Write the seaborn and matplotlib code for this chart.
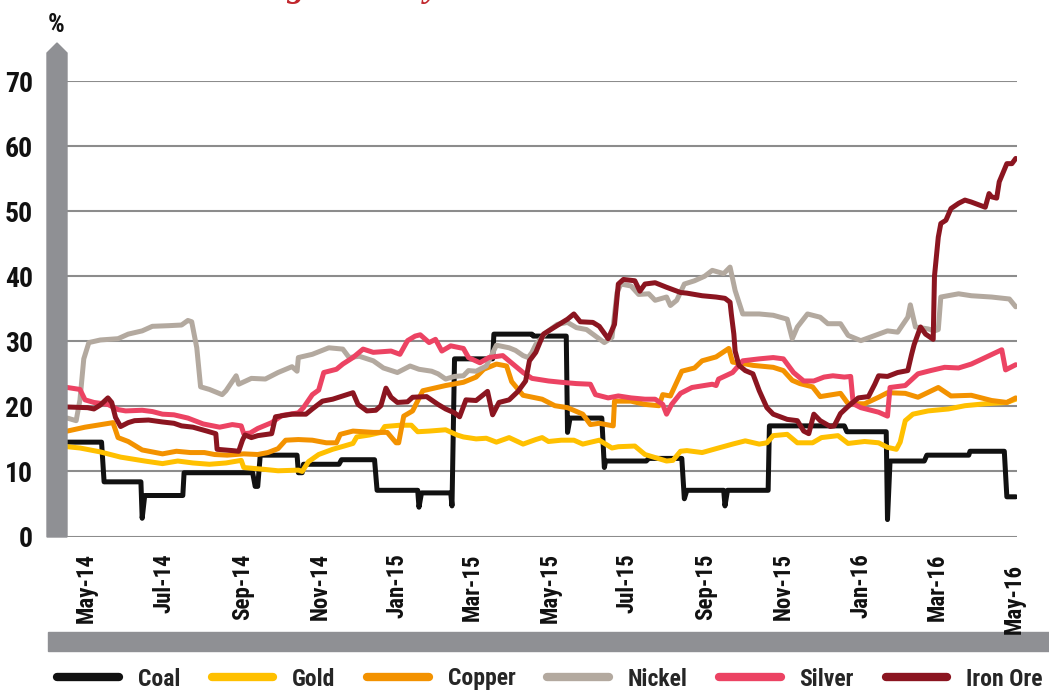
import matplotlib
matplotlib.use("Agg")
import matplotlib.pyplot as plt
from matplotlib import font_manager
from matplotlib.font_manager import FontProperties
from matplotlib.lines import Line2D
from matplotlib.patches import Polygon, Rectangle
from matplotlib.transforms import ScaledTranslation
import pandas as pd
import seaborn as sns

# rolling volatility (%), (date, value) per commodity
coal = [("2014-04-16", 14.5), ("2014-05-13", 14.5), ("2014-05-15", 8.4), ("2014-06-13", 8.4),
        ("2014-06-14", 2.8), ("2014-06-16", 6.3), ("2014-07-16", 6.3), ("2014-07-17", 9.8),
        ("2014-09-09", 9.8), ("2014-09-11", 7.7), ("2014-09-13", 7.7), ("2014-09-15", 12.5),
        ("2014-10-14", 12.5), ("2014-10-15", 9.8), ("2014-10-18", 9.8), ("2014-10-19", 11.1),
        ("2014-11-16", 11.1), ("2014-11-18", 11.8), ("2014-12-14", 11.8), ("2014-12-16", 7.1),
        ("2015-01-17", 7.1), ("2015-01-18", 4.5), ("2015-01-20", 6.7), ("2015-02-12", 6.7),
        ("2015-02-13", 4.7), ("2015-02-15", 27.3), ("2015-03-17", 27.3), ("2015-03-18", 31.1),
        ("2015-04-17", 31.1), ("2015-04-18", 30.8), ("2015-05-14", 30.8), ("2015-05-15", 16.0),
        ("2015-05-17", 18.2), ("2015-06-11", 18.2), ("2015-06-13", 10.6), ("2015-06-14", 11.6),
        ("2015-07-16", 11.6), ("2015-07-18", 12.0), ("2015-08-13", 12.0), ("2015-08-15", 5.8),
        ("2015-08-17", 7.1), ("2015-09-15", 7.1), ("2015-09-16", 4.7), ("2015-09-18", 7.1),
        ("2015-10-20", 7.1), ("2015-10-21", 17.0), ("2015-12-19", 17.0), ("2015-12-21", 16.1),
        ("2016-01-21", 16.1), ("2016-01-22", 2.6), ("2016-01-24", 11.6), ("2016-02-20", 11.6),
        ("2016-02-22", 12.5), ("2016-03-26", 12.5), ("2016-03-27", 13.1), ("2016-04-23", 13.1),
        ("2016-04-25", 6.1), ("2016-05-02", 6.1)]

gold = [("2014-04-16", 13.8), ("2014-04-26", 13.6), ("2014-05-12", 13.0), ("2014-05-28", 12.2),
        ("2014-06-16", 11.6), ("2014-06-30", 11.2), ("2014-07-12", 11.6), ("2014-07-24", 11.3),
        ("2014-08-06", 11.1), ("2014-08-19", 11.3), ("2014-08-31", 11.7), ("2014-09-02", 10.6),
        ("2014-09-19", 10.3), ("2014-09-29", 10.1), ("2014-10-15", 10.2), ("2014-10-18", 10.0),
        ("2014-10-23", 11.5), ("2014-10-31", 12.6), ("2014-11-11", 13.4), ("2014-11-20", 13.9),
        ("2014-11-27", 14.3), ("2014-11-30", 15.3), ("2014-12-10", 15.6), ("2014-12-19", 16.0),
        ("2014-12-22", 16.9), ("2015-01-03", 17.1), ("2015-01-12", 17.1), ("2015-01-17", 16.1),
        ("2015-01-26", 16.2), ("2015-02-08", 16.4), ("2015-02-17", 15.6), ("2015-02-22", 15.3),
        ("2015-03-04", 15.0), ("2015-03-12", 15.1), ("2015-03-20", 14.5), ("2015-03-30", 15.2),
        ("2015-04-10", 14.2), ("2015-04-20", 14.9), ("2015-04-25", 15.2), ("2015-04-30", 14.6),
        ("2015-05-10", 14.8), ("2015-05-20", 14.8), ("2015-05-27", 14.2), ("2015-06-09", 14.8),
        ("2015-06-19", 13.6), ("2015-06-24", 13.8), ("2015-07-07", 13.9), ("2015-07-15", 12.6),
        ("2015-08-01", 11.6), ("2015-08-06", 11.7), ("2015-08-12", 13.1), ("2015-08-17", 13.2),
        ("2015-08-29", 12.9), ("2015-09-09", 13.5), ("2015-09-22", 14.2), ("2015-10-02", 14.7),
        ("2015-10-13", 14.2), ("2015-10-19", 14.4), ("2015-10-24", 15.5), ("2015-11-04", 15.7),
        ("2015-11-12", 14.4), ("2015-11-24", 14.4), ("2015-12-01", 15.2), ("2015-12-14", 15.5),
        ("2015-12-22", 14.3), ("2016-01-04", 14.6), ("2016-01-15", 14.4), ("2016-01-22", 13.7),
        ("2016-01-29", 13.4), ("2016-02-01", 14.5), ("2016-02-05", 17.8), ("2016-02-11", 18.8),
        ("2016-02-23", 19.3), ("2016-03-10", 19.6), ("2016-03-23", 20.1), ("2016-04-08", 20.4),
        ("2016-04-25", 20.6), ("2016-05-02", 21.1)]

copper = [("2014-04-16", 16.2), ("2014-04-30", 16.8), ("2014-05-19", 17.4), ("2014-05-22", 17.5),
          ("2014-05-26", 15.2), ("2014-06-03", 14.6), ("2014-06-14", 13.3), ("2014-06-30", 12.7),
          ("2014-07-11", 13.1), ("2014-07-22", 12.9), ("2014-08-02", 12.9), ("2014-08-10", 12.6),
          ("2014-08-20", 12.5), ("2014-09-02", 12.7), ("2014-09-13", 12.6), ("2014-09-21", 12.9),
          ("2014-09-29", 13.5), ("2014-10-05", 14.8), ("2014-10-15", 14.9), ("2014-10-26", 14.8),
          ("2014-11-06", 14.4), ("2014-11-14", 14.4), ("2014-11-17", 15.7), ("2014-11-27", 16.2),
          ("2014-12-13", 16.0), ("2014-12-24", 16.0), ("2014-12-31", 14.4), ("2015-01-02", 14.4),
          ("2015-01-06", 18.5), ("2015-01-13", 19.3), ("2015-01-21", 22.4), ("2015-02-08", 23.2),
          ("2015-02-22", 23.7), ("2015-03-04", 24.5), ("2015-03-10", 25.7), ("2015-03-20", 26.5),
          ("2015-03-28", 26.2), ("2015-04-01", 23.8), ("2015-04-10", 21.7), ("2015-04-25", 21.1),
          ("2015-05-05", 20.1), ("2015-05-15", 19.8), ("2015-05-27", 18.8), ("2015-06-02", 17.2),
          ("2015-06-09", 17.4), ("2015-06-20", 17.0), ("2015-06-21", 20.8), ("2015-07-04", 20.8),
          ("2015-07-15", 20.3), ("2015-07-26", 20.1), ("2015-07-29", 21.8), ("2015-08-04", 21.6),
          ("2015-08-13", 25.4), ("2015-08-23", 25.9), ("2015-08-29", 27.0), ("2015-09-09", 27.6),
          ("2015-09-19", 28.9), ("2015-09-22", 26.8), ("2015-09-30", 26.6), ("2015-10-08", 26.3),
          ("2015-10-24", 26.0), ("2015-11-01", 25.5), ("2015-11-08", 24.0), ("2015-11-14", 23.5),
          ("2015-11-24", 23.0), ("2015-11-30", 21.5), ("2015-12-16", 22.0), ("2015-12-22", 20.4),
          ("2016-01-04", 20.4), ("2016-01-15", 21.4), ("2016-01-22", 22.1), ("2016-02-05", 22.0),
          ("2016-02-15", 21.4), ("2016-03-02", 22.9), ("2016-03-12", 21.6), ("2016-03-28", 21.7),
          ("2016-04-13", 20.9), ("2016-04-25", 20.6), ("2016-05-02", 21.3)]

nickel = [("2014-04-16", 18.2), ("2014-04-23", 17.8), ("2014-04-26", 21.0), ("2014-04-29", 27.3),
          ("2014-05-03", 29.8), ("2014-05-12", 30.2), ("2014-05-26", 30.4), ("2014-06-03", 31.1),
          ("2014-06-14", 31.6), ("2014-06-22", 32.3), ("2014-07-05", 32.4), ("2014-07-15", 32.5),
          ("2014-07-20", 33.2), ("2014-07-23", 33.0), ("2014-07-27", 29.0), ("2014-07-30", 23.0),
          ("2014-08-06", 22.6), ("2014-08-16", 21.8), ("2014-08-19", 22.4), ("2014-08-27", 24.7),
          ("2014-08-29", 23.4), ("2014-09-08", 24.3), ("2014-09-19", 24.2), ("2014-09-29", 25.2),
          ("2014-10-10", 26.1), ("2014-10-14", 25.4), ("2014-10-15", 27.5), ("2014-10-26", 28.0),
          ("2014-11-08", 29.0), ("2014-11-19", 28.8), ("2014-11-24", 27.5), ("2014-12-02", 27.7),
          ("2014-12-13", 27.0), ("2014-12-21", 25.9), ("2015-01-01", 25.2), ("2015-01-11", 26.2),
          ("2015-01-18", 25.7), ("2015-01-28", 25.4), ("2015-02-02", 25.0), ("2015-02-08", 24.2),
          ("2015-02-15", 24.6), ("2015-02-22", 24.7), ("2015-02-26", 25.5), ("2015-03-04", 25.4),
          ("2015-03-12", 26.2), ("2015-03-20", 29.4), ("2015-03-30", 29.0), ("2015-04-04", 28.6),
          ("2015-04-10", 27.8), ("2015-04-14", 27.5), ("2015-04-17", 28.3), ("2015-04-20", 29.5),
          ("2015-04-28", 31.3), ("2015-04-30", 31.6), ("2015-05-07", 32.6), ("2015-05-15", 32.9),
          ("2015-05-22", 32.1), ("2015-05-30", 31.8), ("2015-06-06", 30.8), ("2015-06-13", 29.8),
          ("2015-06-19", 30.6), ("2015-06-23", 37.5), ("2015-06-26", 38.8), ("2015-07-04", 38.5),
          ("2015-07-10", 37.2), ("2015-07-18", 37.3), ("2015-07-23", 36.3), ("2015-08-01", 36.8),
          ("2015-08-04", 35.5), ("2015-08-09", 36.3), ("2015-08-15", 38.8), ("2015-08-23", 39.3),
          ("2015-08-31", 40.0), ("2015-09-06", 40.9), ("2015-09-15", 40.4), ("2015-09-20", 41.4),
          ("2015-09-24", 37.8), ("2015-09-30", 34.2), ("2015-10-13", 34.2), ("2015-10-24", 34.0),
          ("2015-11-04", 33.4), ("2015-11-08", 30.4), ("2015-11-12", 32.2), ("2015-11-20", 34.2),
          ("2015-11-30", 33.7), ("2015-12-06", 32.7), ("2015-12-16", 32.7), ("2015-12-22", 30.9),
          ("2016-01-01", 30.1), ("2016-01-15", 31.1), ("2016-01-22", 31.6), ("2016-01-30", 31.4),
          ("2016-02-07", 33.7), ("2016-02-09", 35.6), ("2016-02-13", 32.2), ("2016-02-23", 31.9),
          ("2016-02-28", 31.6), ("2016-03-02", 31.8), ("2016-03-04", 36.8), ("2016-03-18", 37.3),
          ("2016-03-28", 37.0), ("2016-04-13", 36.8), ("2016-04-27", 36.5), ("2016-05-02", 35.3)]

silver = [("2014-04-16", 22.9), ("2014-04-26", 22.6), ("2014-04-30", 21.0), ("2014-05-07", 20.6),
          ("2014-05-18", 20.3), ("2014-05-26", 19.5), ("2014-06-01", 19.3), ("2014-06-14", 19.4),
          ("2014-06-22", 19.2), ("2014-06-30", 18.8), ("2014-07-09", 18.7), ("2014-07-20", 18.2),
          ("2014-08-01", 17.3), ("2014-08-14", 16.8), ("2014-08-24", 17.2), ("2014-08-31", 17.0),
          ("2014-09-02", 15.8), ("2014-09-07", 15.9), ("2014-09-13", 16.6), ("2014-09-24", 17.5),
          ("2014-10-02", 18.6), ("2014-10-15", 19.0), ("2014-10-19", 19.8), ("2014-10-26", 21.8),
          ("2014-10-31", 22.5), ("2014-11-04", 25.2), ("2014-11-14", 25.7), ("2014-11-19", 26.5),
          ("2014-11-27", 27.5), ("2014-12-05", 28.8), ("2014-12-13", 28.3), ("2014-12-27", 28.5),
          ("2015-01-03", 28.0), ("2015-01-09", 30.1), ("2015-01-15", 30.8), ("2015-01-19", 31.0),
          ("2015-01-26", 29.8), ("2015-01-31", 30.3), ("2015-02-05", 28.5), ("2015-02-12", 29.3),
          ("2015-02-22", 28.9), ("2015-02-26", 27.5), ("2015-03-07", 26.7), ("2015-03-14", 27.5),
          ("2015-03-25", 27.8), ("2015-04-02", 26.5), ("2015-04-10", 25.2), ("2015-04-17", 24.3),
          ("2015-04-30", 23.9), ("2015-05-10", 23.7), ("2015-05-22", 23.5), ("2015-06-02", 23.4),
          ("2015-06-06", 21.8), ("2015-06-16", 21.3), ("2015-06-24", 21.6), ("2015-07-04", 21.3),
          ("2015-07-15", 21.1), ("2015-07-23", 21.1), ("2015-07-29", 20.3), ("2015-08-01", 18.8),
          ("2015-08-05", 20.3), ("2015-08-12", 22.0), ("2015-08-21", 22.9), ("2015-09-06", 23.4),
          ("2015-09-09", 23.2), ("2015-09-11", 24.2), ("2015-09-22", 25.2), ("2015-09-30", 27.0),
          ("2015-10-13", 27.3), ("2015-10-24", 27.5), ("2015-11-01", 27.3), ("2015-11-09", 25.2),
          ("2015-11-17", 23.9), ("2015-11-25", 23.9), ("2015-12-03", 24.5), ("2015-12-10", 24.7),
          ("2015-12-19", 24.5), ("2015-12-24", 24.6), ("2015-12-26", 20.4), ("2016-01-01", 19.8),
          ("2016-01-15", 19.1), ("2016-01-22", 18.5), ("2016-01-24", 22.9), ("2016-02-05", 23.2),
          ("2016-02-15", 25.0), ("2016-02-25", 25.5), ("2016-03-07", 26.0), ("2016-03-18", 25.9),
          ("2016-03-28", 26.5), ("2016-04-08", 27.5), ("2016-04-21", 28.7), ("2016-04-24", 25.6),
          ("2016-05-02", 26.4)]

iron_ore = [("2014-04-16", 19.9), ("2014-05-02", 19.8), ("2014-05-07", 19.6), ("2014-05-12", 20.2),
            ("2014-05-18", 21.3), ("2014-05-21", 20.6), ("2014-05-24", 18.3), ("2014-05-28", 16.9),
            ("2014-06-03", 17.5), ("2014-06-08", 17.8), ("2014-06-19", 17.9), ("2014-06-30", 17.6),
            ("2014-07-09", 17.4), ("2014-07-15", 17.0), ("2014-07-24", 16.8), ("2014-08-04", 16.2),
            ("2014-08-11", 15.8), ("2014-08-12", 13.4), ("2014-08-24", 13.2), ("2014-08-29", 13.1),
            ("2014-09-01", 14.8), ("2014-09-03", 15.6), ("2014-09-08", 15.2), ("2014-09-13", 15.5),
            ("2014-09-24", 15.8), ("2014-09-27", 18.4), ("2014-10-10", 18.8), ("2014-10-21", 18.8),
            ("2014-10-26", 19.6), ("2014-11-03", 20.8), ("2014-11-11", 21.1), ("2014-11-19", 21.6),
            ("2014-11-27", 22.1), ("2014-12-01", 20.3), ("2014-12-08", 19.3), ("2014-12-15", 19.4),
            ("2014-12-19", 20.1), ("2014-12-23", 22.8), ("2014-12-27", 21.4), ("2015-01-01", 20.6),
            ("2015-01-09", 20.7), ("2015-01-13", 21.4), ("2015-01-24", 21.5), ("2015-02-02", 20.3),
            ("2015-02-08", 19.6), ("2015-02-15", 19.0), ("2015-02-19", 18.4), ("2015-02-24", 21.0),
            ("2015-03-04", 20.9), ("2015-03-13", 22.3), ("2015-03-17", 18.7), ("2015-03-22", 20.6),
            ("2015-03-30", 21.0), ("2015-04-06", 22.3), ("2015-04-12", 23.9), ("2015-04-15", 27.0),
            ("2015-04-20", 28.3), ("2015-04-26", 31.1), ("2015-05-05", 32.2), ("2015-05-15", 33.4),
            ("2015-05-20", 34.2), ("2015-05-25", 33.0), ("2015-06-04", 32.9), ("2015-06-09", 32.3),
            ("2015-06-16", 30.4), ("2015-06-21", 32.6), ("2015-06-24", 38.8), ("2015-06-28", 39.5),
            ("2015-07-07", 39.3), ("2015-07-11", 37.7), ("2015-07-15", 38.8), ("2015-07-23", 39.0),
            ("2015-08-01", 38.3), ("2015-08-12", 37.5), ("2015-08-17", 37.4), ("2015-08-29", 37.0),
            ("2015-09-09", 36.8), ("2015-09-16", 36.6), ("2015-09-20", 36.0), ("2015-09-21", 34.2),
            ("2015-09-23", 31.1), ("2015-09-24", 28.5), ("2015-09-27", 26.3), ("2015-10-02", 25.5),
            ("2015-10-08", 25.0), ("2015-10-13", 22.4), ("2015-10-19", 19.8), ("2015-10-24", 18.8),
            ("2015-11-04", 18.0), ("2015-11-12", 17.8), ("2015-11-17", 16.2), ("2015-11-21", 15.8),
            ("2015-11-25", 18.8), ("2015-11-30", 17.8), ("2015-12-08", 16.9), ("2015-12-11", 17.0),
            ("2015-12-16", 18.9), ("2015-12-22", 20.0), ("2015-12-30", 21.3), ("2016-01-07", 21.5),
            ("2016-01-12", 23.4), ("2016-01-15", 24.7), ("2016-01-22", 24.6), ("2016-01-30", 25.2),
            ("2016-02-07", 25.5), ("2016-02-10", 28.0), ("2016-02-12", 29.5), ("2016-02-17", 32.2),
            ("2016-02-21", 31.1), ("2016-02-27", 30.3), ("2016-02-28", 40.0), ("2016-03-02", 46.0),
            ("2016-03-04", 48.1), ("2016-03-08", 48.6), ("2016-03-12", 50.4), ("2016-03-18", 51.2),
            ("2016-03-23", 51.7), ("2016-03-28", 51.4), ("2016-04-08", 50.6), ("2016-04-11", 52.7),
            ("2016-04-13", 52.2), ("2016-04-17", 52.0), ("2016-04-19", 54.5), ("2016-04-25", 57.3),
            ("2016-04-29", 57.3), ("2016-05-02", 58.1)]

metals = ["Coal", "Gold", "Copper", "Nickel", "Silver", "Iron Ore"]
colors = ["#111111", "#FFC000", "#F39200", "#B3A99F", "#EC4363", "#8B1520"]
tick_dates = ["2014-05-01", "2014-07-01", "2014-09-01", "2014-11-01", "2015-01-01", "2015-03-01",
              "2015-05-01", "2015-07-01", "2015-09-01", "2015-11-01", "2016-01-01", "2016-03-01",
              "2016-05-01"]
tick_labels = ["May-14", "Jul-14", "Sep-14", "Nov-14", "Jan-15", "Mar-15", "May-15", "Jul-15",
               "Sep-15", "Nov-15", "Jan-16", "Mar-16", "May-16"]

rows = []
for name, pts in zip(metals, [coal, gold, copper, nickel, silver, iron_ore]):
    for d, v in pts:
        rows.append((pd.Timestamp(d), v, name))
df = pd.DataFrame(rows, columns=["date", "vol", "metal"])

sns.set_theme(style="white")


# the original uses a bold condensed sans; look for one that is installed
def find_condensed():
    pref = ["Liberation Sans Narrow", "Roboto Condensed", "Noto Sans", "DejaVu Sans",
            "Open Sans", "Roboto", "Lato", "Inter"]
    srank = {"condensed": 0, "semi-condensed": 1, "extra-condensed": 2}
    found = []
    for f in font_manager.fontManager.ttflist:
        w = f.weight if isinstance(f.weight, int) else {"bold": 700, "semibold": 600,
                                                          "demibold": 600, "heavy": 800}.get(f.weight, 400)
        fn = f.fname.lower()
        narrow = ("narrow" in f.name.lower() or "condensed" in f.name.lower()
                  or "condensed" in fn or "narrow" in fn or "condensed" in str(f.stretch))
        if not narrow or w < 600 or f.style != "normal" or "italic" in fn:
            continue
        fam = next((i for i, p in enumerate(pref) if f.name.startswith(p)), len(pref))
        s = str(f.stretch)
        if "extra" in fn or "ultra" in fn:
            s = "extra-condensed"
        elif "semi" in fn:
            s = "semi-condensed"
        found.append((srank.get(s, 0), fam, abs(w - 700), f.fname))
    if found:
        found.sort()
        return found[0][3]
    return None


cpath = find_condensed()


def cf(size):
    if cpath:
        return FontProperties(fname=cpath, size=size)
    return FontProperties(family="Roboto", weight="bold", size=size)


W, H = 1049, 691


def fx(px):
    return px / W


def fy(py):
    return 1 - py / H


fig = plt.figure(figsize=(10.49, 6.91), dpi=100)
ax = fig.add_axes([fx(66), fy(536.5), fx(1017) - fx(66), fy(81) - fy(536.5)])

sns.lineplot(data=df, x="date", y="vol", hue="metal", hue_order=metals, palette=colors,
             estimator=None, linewidth=3.6, legend=False, ax=ax)
for ln in ax.lines:
    ln.set_solid_joinstyle("round")
    ln.set_solid_capstyle("round")

grey = "#8c8c8c"
ax.set_xlim(pd.Timestamp("2014-04-15"), pd.Timestamp("2016-05-03"))
ax.set_ylim(0, 70)
ax.set_yticks(range(0, 71, 10))
ax.set_xticks(pd.to_datetime(tick_dates))
ax.set_xticklabels(tick_labels, rotation=90)
ax.tick_params(axis="y", length=0, pad=24)
ax.tick_params(axis="x", direction="out", length=8, width=1.3, color=grey, pad=4)
for lab in ax.get_xticklabels():
    lab.set_fontproperties(cf(16.5))
    lab.set_color("#111111")
for lab in ax.get_yticklabels():
    lab.set_fontproperties(cf(20))
    lab.set_color("#111111")
ax.grid(axis="y", color=grey, linewidth=1.5)
ax.grid(axis="x", visible=False)
ax.set_axisbelow(True)
for s in ax.spines.values():
    s.set_visible(False)
ax.set_xlabel("")
ax.set_ylabel("")

# last label sits a little lower in the original
last = ax.get_xticklabels()[-1]
last.set_transform(last.get_transform() + ScaledTranslation(0, -0.11, fig.dpi_scale_trans))

# grey axis bars (the bottom band sits behind the tick labels)
bar_col = "#8f9094"
fig.add_artist(Polygon([(fx(47), fy(537)), (fx(47), fy(53)), (fx(57), fy(43)),
                        (fx(67), fy(53)), (fx(67), fy(537))], closed=True,
                       transform=fig.transFigure, color=bar_col, zorder=5))
fig.add_artist(Rectangle((fx(48), fy(651)), fx(1049) - fx(48), fy(632) - fy(651),
                         transform=fig.transFigure, color=bar_col, zorder=-1))

fig.text(fx(56), fy(25), "%", ha="center", va="center", fontproperties=cf(19), color="#111111")
fig.text(fx(441), fy(-4), "Rolling volatility", ha="right", va="baseline", color="#C1272D",
         fontsize=25.5, family="Liberation Serif", fontweight="bold", fontstyle="italic")

handles = [Line2D([0], [0], color=c, lw=6, solid_capstyle="round") for c in colors]
fig.legend(handles, metals, loc="center", bbox_to_anchor=(fx(550), fy(679)), ncol=6,
           frameon=False, prop=cf(17), handlelength=2.6,
           handletextpad=0.8, columnspacing=1.35)

fig.savefig("out.png", dpi=100)
